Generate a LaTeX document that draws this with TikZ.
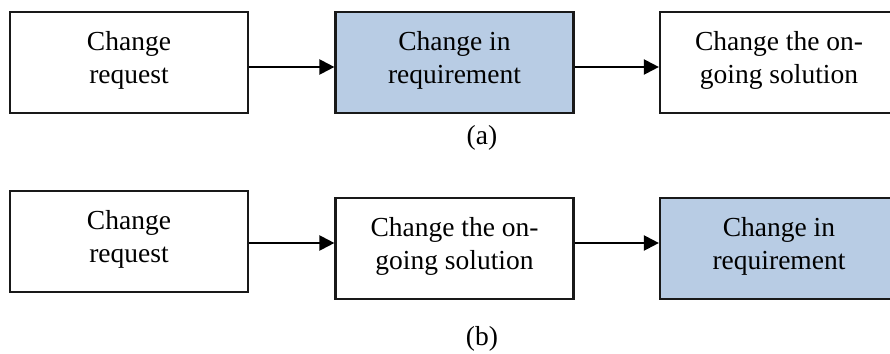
\documentclass[tikz,border=0pt]{standalone}
\usepackage{fontspec}
\setmainfont{Liberation Serif}
\usetikzlibrary{arrows.meta}
\definecolor{reqblue}{HTML}{B8CCE4}
\begin{document}
\begin{tikzpicture}[x=1pt,y=-1pt,
  stage/.style={draw=black!90, line width=2.2pt, minimum width=238pt,
    minimum height=101pt, align=center, inner sep=0pt, text depth=11pt,
    font=\fontsize{27.5}{33}\selectfont},
  hl/.style={fill=reqblue},
  flow/.style={line width=2.2pt, -{Triangle[length=15pt,width=15pt]}},
  caption/.style={font=\fontsize{27.5}{33}\selectfont, inner sep=0pt}]
\clip (0,0) rectangle (890,353);

% (a): request -> requirement -> solution
\node[stage]    (a1) at (129,62.5)   {Change\\request};
\node[stage,hl] (a2) at (454.5,62.5) {Change in\\requirement};
\node[stage]    (a3) at (779,62.5)   {Change the on-\\going solution};
\draw[flow] (a1.east |- 0,67) -- (a2.west |- 0,67);
\draw[flow] (a2.east |- 0,67) -- (a3.west |- 0,67);
\node[caption] (la) at (482,137.5) {(a)};

% (b): request -> solution -> requirement
\node[stage]    (b1) at (129,241.5)   {Change\\request};
\node[stage]    (b2) at (454.5,248.5) {Change the on-\\going solution};
\node[stage,hl] (b3) at (779,248.5)   {Change in\\requirement};
\draw[flow] (b1.east |- 0,243) -- (b2.west |- 0,243);
\draw[flow] (b2.east |- 0,243) -- (b3.west |- 0,243);
\node[caption] (lb) at (482,339) {(b)};
\end{tikzpicture}
\end{document}
